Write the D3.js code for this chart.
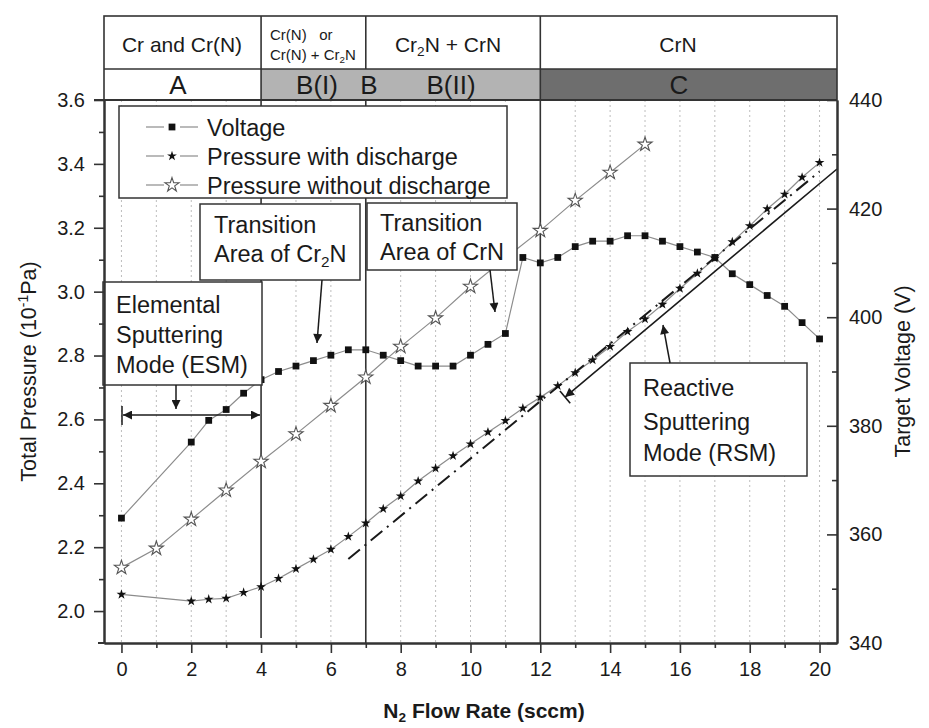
<!DOCTYPE html>
<html>
<head>
<meta charset="utf-8">
<script src="https://cdn.jsdelivr.net/npm/d3@7"></script>
<style>
  html, body { margin: 0; padding: 0; background: #fff; }
  svg text { font-family: "Liberation Sans", Arial, sans-serif; fill: #1a1a1a; }
</style>
</head>
<body>
<svg id="chart" width="929" height="728"></svg>
<script>
// ---- data ----
// N2 flow rate (sccm) at which voltage and discharge pressure were sampled
const flowSampled = [0, 2, 2.5, 3, 3.5, 4, 4.5, 5, 5.5, 6, 6.5, 7, 7.5, 8, 8.5, 9, 9.5, 10,
  10.5, 11, 11.5, 12, 12.5, 13, 13.5, 14, 14.5, 15, 15.5, 16, 16.5, 17, 17.5, 18, 18.5, 19, 19.5, 20];
// target voltage (V)
const voltage = [363, 377, 381, 383, 386, 388.5, 390, 391, 392, 393, 394, 394, 393, 392, 391, 391, 391, 393,
  395, 397, 411, 410, 411, 413, 414, 414, 415, 415, 414, 413, 412, 411, 408, 406, 404, 402, 399, 396];
// total pressure with discharge (10^-1 Pa)
const pressureOn = [2.052, 2.031, 2.037, 2.040, 2.058, 2.076, 2.102, 2.132, 2.162, 2.193, 2.233, 2.275, 2.320, 2.360,
  2.407, 2.447, 2.486, 2.523, 2.560, 2.596, 2.635, 2.669, 2.705, 2.746, 2.786, 2.828, 2.875, 2.914, 2.960, 3.010,
  3.057, 3.104, 3.156, 3.206, 3.259, 3.305, 3.358, 3.404];
// total pressure without discharge (10^-1 Pa)
const flowOff = [0, 1, 2, 3, 4, 5, 6, 7, 8, 9, 10, 11, 12, 13, 14, 15];
const pressureOff = [2.136, 2.196, 2.287, 2.378, 2.468, 2.554, 2.643, 2.732, 2.828, 2.917, 3.016, 3.105, 3.191, 3.285, 3.373, 3.461];

// guide lines: dash-dot trend and the RSM arrow line (flow, pressure)
const trendLine = [[6.5, 2.163], [20, 3.376]];
const rsmLine = [[20.5, 3.384], [12.71, 2.670]];

// phase boundaries and tick sets
const boundaries = [4, 7, 12];
const xMajorTicks = [0, 2, 4, 6, 8, 10, 12, 14, 16, 18, 20];
const xMinorTicks = [1, 3, 5, 7, 9, 11, 13, 15, 17, 19];
const gridFlows = [0, 1, 2, 3, 5, 6, 8, 9, 10, 11, 13, 14, 15, 16, 17, 18, 19, 20];
const pMajorTicks = [2.0, 2.2, 2.4, 2.6, 2.8, 3.0, 3.2, 3.4, 3.6];
const pMinorTicks = [2.1, 2.3, 2.5, 2.7, 2.9, 3.1, 3.3, 3.5];
const vMajorTicks = [340, 360, 380, 400, 420, 440];
const vMinorTicks = [350, 370, 390, 410, 430];

const svg = d3.select("#chart");
const M = { left: 104, right: 837, top: 100, bottom: 643 };

const x = d3.scaleLinear().domain([-0.5, 20.5]).range([M.left, M.right]);
const yP = d3.scaleLinear().domain([1.9, 3.6]).range([M.bottom, M.top]);
const yV = d3.scaleLinear().domain([340, 440]).range([M.bottom, M.top]);

const ink = "#1a1a1a";
const lineGray = "#8c8c8c";

// arrowhead marker
const defs = svg.append("defs");
defs.append("marker").attr("id", "head").attr("viewBox", "0 0 10 10")
  .attr("refX", 10).attr("refY", 5).attr("markerWidth", 11).attr("markerHeight", 9)
  .attr("markerUnits", "userSpaceOnUse").attr("orient", "auto-start-reverse")
  .append("path").attr("d", "M0,0 L10,5 L0,10 Z").attr("fill", ink);

// dotted vertical grid
svg.append("g").selectAll("line").data(gridFlows).join("line")
  .attr("x1", d => x(d)).attr("x2", d => x(d))
  .attr("y1", M.top).attr("y2", M.bottom)
  .attr("stroke", "#bdbdbd").attr("stroke-width", 1).attr("stroke-dasharray", "2,3");

// phase boundary lines
svg.append("g").selectAll("line").data(boundaries).join("line")
  .attr("x1", d => x(d)).attr("x2", d => x(d))
  .attr("y1", M.top).attr("y2", d => d === 4 ? M.bottom - 5 : M.bottom)
  .attr("stroke", "#333").attr("stroke-width", 1.6);

// connecting lines
const voltPts = flowSampled.map((f, i) => [f, voltage[i]]);
const onPts = flowSampled.map((f, i) => [f, pressureOn[i]]);
const offPts = flowOff.map((f, i) => [f, pressureOff[i]]);

const lineV = d3.line().x(d => x(d[0])).y(d => yV(d[1]));
const lineP = d3.line().x(d => x(d[0])).y(d => yP(d[1]));

svg.append("path").datum(offPts).attr("d", lineP).attr("fill", "none")
  .attr("stroke", lineGray).attr("stroke-width", 1.2);
svg.append("path").datum(onPts).attr("d", lineP).attr("fill", "none")
  .attr("stroke", lineGray).attr("stroke-width", 1.2);
svg.append("path").datum(voltPts).attr("d", lineV).attr("fill", "none")
  .attr("stroke", lineGray).attr("stroke-width", 1.2);

// dash-dot trend line and the RSM line
svg.append("path").datum(trendLine).attr("d", lineP).attr("fill", "none")
  .attr("stroke", ink).attr("stroke-width", 2).attr("stroke-dasharray", "15,6,2,6");
svg.append("path").datum(rsmLine).attr("d", lineP).attr("fill", "none")
  .attr("stroke", ink).attr("stroke-width", 1.6).attr("marker-end", "url(#head)");
// end bar of the RSM line
{
  const p0 = [x(rsmLine[0][0]), yP(rsmLine[0][1])];
  const p1 = [x(rsmLine[1][0]), yP(rsmLine[1][1])];
  const dx = p1[0] - p0[0], dy = p1[1] - p0[1], L = Math.hypot(dx, dy);
  const nx = -dy / L * 8, ny = dx / L * 8;
  svg.append("line").attr("x1", p1[0] - nx).attr("y1", p1[1] - ny)
    .attr("x2", p1[0] + nx).attr("y2", p1[1] + ny).attr("stroke", ink).attr("stroke-width", 1.6);
}

// markers
const starFilled = d3.symbol().type(d3.symbolStar).size(30);
const starHollow = d3.symbol().type(d3.symbolStar).size(62);
const square = d3.symbol().type(d3.symbolSquare).size(46);

svg.append("g").selectAll("path").data(offPts).join("path")
  .attr("d", starHollow).attr("transform", d => `translate(${x(d[0])},${yP(d[1])})`)
  .attr("fill", "#fff").attr("stroke", "#555").attr("stroke-width", 1.1);
svg.append("g").selectAll("path").data(onPts).join("path")
  .attr("d", starFilled).attr("transform", d => `translate(${x(d[0])},${yP(d[1])})`)
  .attr("fill", "#111");
svg.append("g").selectAll("path").data(voltPts).join("path")
  .attr("d", square).attr("transform", d => `translate(${x(d[0])},${yV(d[1])})`)
  .attr("fill", "#111");

// text helper: parts are [string, "sub"|"sup"|null]
function richText(g, px, py, parts, size, anchor) {
  const t = g.append("text").attr("x", px).attr("y", py)
    .attr("font-size", size).attr("text-anchor", anchor || "start")
    .style("white-space", "pre");
  parts.forEach(([s, kind]) => {
    const sp = t.append("tspan").text(s);
    if (kind === "sub") sp.attr("font-size", size * 0.65).attr("baseline-shift", "-30%");
    if (kind === "sup") sp.attr("font-size", size * 0.65).attr("baseline-shift", "55%");
  });
  return t;
}

// annotation boxes
function box(x0, y0, x1, y1, lines, tx, lineYs, size) {
  const g = svg.append("g");
  g.append("rect").attr("x", x0).attr("y", y0).attr("width", x1 - x0).attr("height", y1 - y0)
    .attr("fill", "#fff").attr("stroke", "#333").attr("stroke-width", 1.5);
  lines.forEach((parts, i) => richText(g, tx, lineYs[i], parts, size));
}
const annSize = 23.5;
box(200, 204, 360, 280, [[["Transition"]], [["Area of Cr"], ["2", "sub"], ["N"]]], 214, [233, 262], annSize);
box(367, 203, 517, 270, [[["Transition"]], [["Area of CrN"]]], 380, [231, 260], annSize);
box(103, 282, 262, 385, [[["Elemental"]], [["Sputtering"]], [["Mode (ESM)"]]], 116, [313, 343, 373], annSize);
box(630, 363, 807, 476, [[["Reactive"]], [["Sputtering"]], [["Mode (RSM)"]]], 643, [396, 430, 461], annSize);

// annotation arrows
function arrow(x1, y1, x2, y2, both) {
  const l = svg.append("line").attr("x1", x1).attr("y1", y1).attr("x2", x2).attr("y2", y2)
    .attr("stroke", ink).attr("stroke-width", 1.5).attr("marker-end", "url(#head)");
  if (both) l.attr("marker-start", "url(#head)");
}
arrow(322, 280, 317, 343);
arrow(490, 270, 495, 312);
arrow(176, 385, 176, 409);
arrow(123, 415, 260, 415, true);
svg.append("line").attr("x1", 122).attr("x2", 122).attr("y1", 406).attr("y2", 425)
  .attr("stroke", ink).attr("stroke-width", 1.5);
arrow(670, 363, 663, 325);

// legend
{
  const g = svg.append("g");
  g.append("rect").attr("x", 119).attr("y", 106).attr("width", 388).attr("height", 92)
    .attr("fill", "#fff").attr("stroke", "#333").attr("stroke-width", 1.5);
  const items = [
    { label: "Voltage", sym: square, fill: "#111", stroke: "none" },
    { label: "Pressure with discharge", sym: starFilled, fill: "#111", stroke: "none" },
    { label: "Pressure without discharge", sym: starHollow, fill: "#fff", stroke: "#555" }
  ];
  const rowY = [127, 156, 185];
  items.forEach((it, i) => {
    const cy = rowY[i];
    g.append("line").attr("x1", 146).attr("x2", 164).attr("y1", cy).attr("y2", cy)
      .attr("stroke", lineGray).attr("stroke-width", 1.2);
    g.append("line").attr("x1", 180).attr("x2", 198).attr("y1", cy).attr("y2", cy)
      .attr("stroke", lineGray).attr("stroke-width", 1.2);
    g.append("path").attr("d", it.sym).attr("transform", `translate(172,${cy})`)
      .attr("fill", it.fill).attr("stroke", it.stroke).attr("stroke-width", 1.1);
    g.append("text").attr("x", 207).attr("y", cy + 8.5).attr("font-size", 23.5).text(it.label);
  });
}

// axes
function styleAxis(g) {
  g.selectAll("path.domain").attr("stroke", "#333").attr("stroke-width", 2);
  g.selectAll(".tick line").attr("stroke", "#333").attr("stroke-width", 1.6);
  g.selectAll("text").attr("font-size", 20).attr("fill", ink)
    .attr("font-family", '"Liberation Sans", Arial, sans-serif');
}
svg.append("g").attr("transform", `translate(0,${M.bottom})`)
  .call(d3.axisBottom(x).tickValues(xMinorTicks).tickSize(5).tickFormat("").tickSizeOuter(0))
  .call(styleAxis);
svg.append("g").attr("transform", `translate(0,${M.bottom})`)
  .call(d3.axisBottom(x).tickValues(xMajorTicks).tickSize(10).tickPadding(9).tickFormat(d3.format("d")).tickSizeOuter(0))
  .call(styleAxis);
svg.append("g").attr("transform", `translate(${M.left},0)`)
  .call(d3.axisLeft(yP).tickValues(pMinorTicks).tickSize(5).tickFormat("").tickSizeOuter(0))
  .call(styleAxis);
svg.append("g").attr("transform", `translate(${M.left},0)`)
  .call(d3.axisLeft(yP).tickValues(pMajorTicks).tickSize(10).tickPadding(9).tickFormat(d3.format(".1f")).tickSizeOuter(0))
  .call(styleAxis);
svg.append("g").attr("transform", `translate(${M.right},0)`)
  .call(d3.axisRight(yV).tickValues(vMinorTicks).tickSizeInner(-5).tickSizeOuter(0).tickFormat(""))
  .call(styleAxis);
svg.append("g").attr("transform", `translate(${M.right},0)`)
  .call(d3.axisRight(yV).tickValues(vMajorTicks).tickSizeInner(-10).tickSizeOuter(0).tickPadding(12).tickFormat(d3.format("d")))
  .call(styleAxis);
// bottom axis line extends a little past the left axis
svg.append("line").attr("x1", 98).attr("x2", M.left).attr("y1", M.bottom).attr("y2", M.bottom)
  .attr("stroke", "#333").attr("stroke-width", 2);

// axis titles
richText(svg, 0, 0, [["Total Pressure (10"], ["-1", "sup"], ["Pa)"]], 21.5, "middle")
  .attr("transform", `translate(36,${(M.top + M.bottom) / 2}) rotate(-90)`);
richText(svg, 0, 0, [["Target Voltage (V)"]], 21.5, "middle")
  .attr("transform", `translate(910,${(M.top + M.bottom) / 2}) rotate(-90)`);
richText(svg, 484, 718, [["N"], ["2", "sub"], [" Flow Rate (sccm)"]], 21, "middle")
  .attr("font-weight", "bold");

// phase header
{
  const g = svg.append("g");
  const top = 16, mid = 69, bot = M.top;
  const phases = [
    { from: -0.5, to: 4, fill: "#fff" },
    { from: 4, to: 12, fill: "#b3b3b3" },
    { from: 12, to: 20.5, fill: "#6e6e6e" }
  ];
  g.append("rect").attr("x", M.left).attr("y", top).attr("width", M.right - M.left).attr("height", bot - top)
    .attr("fill", "#fff");
  g.selectAll("rect.ph").data(phases).join("rect").attr("class", "ph")
    .attr("x", d => x(d.from)).attr("y", mid).attr("width", d => x(d.to) - x(d.from)).attr("height", bot - mid)
    .attr("fill", d => d.fill);
  g.append("rect").attr("x", M.left).attr("y", top).attr("width", M.right - M.left).attr("height", bot - top)
    .attr("fill", "none").attr("stroke", "#333").attr("stroke-width", 1.6);
  g.append("line").attr("x1", M.left).attr("x2", M.right).attr("y1", mid).attr("y2", mid)
    .attr("stroke", "#333").attr("stroke-width", 1.6);
  g.append("line").attr("x1", M.left - 10).attr("x2", M.right).attr("y1", bot).attr("y2", bot)
    .attr("stroke", "#333").attr("stroke-width", 2);
  // row 1 dividers at each boundary, row 2 at phase edges
  g.selectAll("line.d1").data(boundaries).join("line").attr("class", "d1")
    .attr("x1", d => x(d)).attr("x2", d => x(d)).attr("y1", top).attr("y2", mid)
    .attr("stroke", "#333").attr("stroke-width", 1.6);
  g.selectAll("line.d2").data([4, 12]).join("line").attr("class", "d2")
    .attr("x1", d => x(d)).attr("x2", d => x(d)).attr("y1", mid).attr("y2", bot)
    .attr("stroke", "#333").attr("stroke-width", 1.6);

  richText(g, 182, 52, [["Cr and Cr(N)"]], 21, "middle");
  richText(g, 270, 40, [["Cr(N)\u00a0\u00a0\u00a0or"]], 15);
  richText(g, 270, 60, [["Cr(N) + Cr"], ["2", "sub"], ["N"]], 15);
  richText(g, 448, 52, [["Cr"], ["2", "sub"], ["N + CrN"]], 21, "middle");
  richText(g, 678, 52, [["CrN"]], 21, "middle");

  richText(g, 178, 94, [["A"]], 26, "middle");
  richText(g, 317, 94, [["B(I)"]], 26, "middle");
  richText(g, 369, 94, [["B"]], 26, "middle");
  richText(g, 451, 94, [["B(II)"]], 26, "middle");
  richText(g, 679, 94, [["C"]], 26, "middle");
}
</script>
</body>
</html>
